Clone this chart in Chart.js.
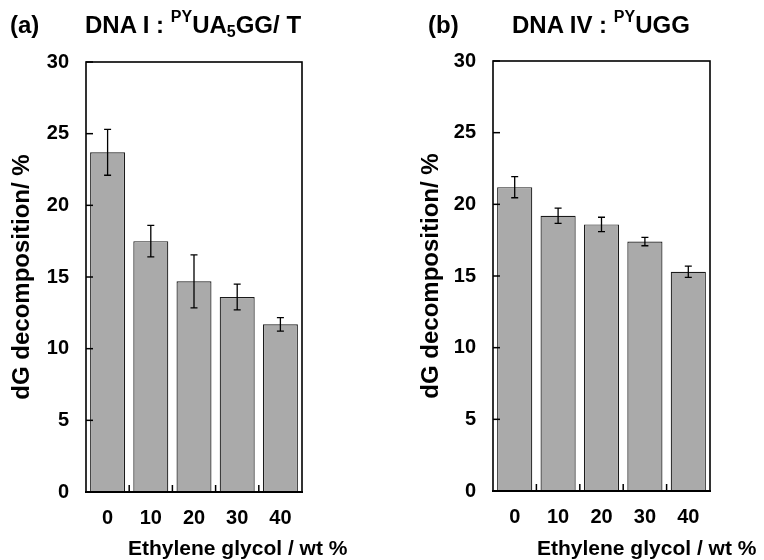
<!DOCTYPE html>
<html>
<head>
<meta charset="utf-8">
<script src="https://cdn.jsdelivr.net/npm/chart.js@4"></script>
<style>
  body { margin: 0; background: #fff; }
  #wrap { position: relative; width: 764px; height: 560px; overflow: hidden; font-family: "Liberation Sans", Arial, sans-serif; font-weight: bold; color: #000; }
  canvas { position: absolute; top: 0; }
  .ttl { position: absolute; top: 13px; font-size: 24px; line-height: 24px; white-space: nowrap; }
  .ttl .up { font-size: 16px; position: relative; top: -11px; }
  .ttl .dn { font-size: 16px; position: relative; top: 4px; }
  .xt { position: absolute; top: 537px; font-size: 21px; line-height: 21px; white-space: nowrap; }
</style>
</head>
<body>
<div id="wrap">
  <canvas id="chartA" width="382" height="560" style="left:0"></canvas>
  <canvas id="chartB" width="382" height="560" style="left:382px"></canvas>
  <div class="ttl" style="left:10px">(a)</div>
  <div class="ttl" style="left:85px">DNA I : <span class="up">PY</span>UA<span class="dn">5</span>GG/ T</div>
  <div class="ttl" style="left:428px">(b)</div>
  <div class="ttl" style="left:512px">DNA IV : <span class="up">PY</span>UGG</div>
  <div class="xt" style="left:128px">Ethylene glycol / wt %</div>
  <div class="xt" style="left:537px">Ethylene glycol / wt %</div>
</div>
<script>
// ethylene glycol content (wt %)
const glycol = ['0', '10', '20', '30', '40'];
// dG decomposition (%) with error bars
const dnaI = [23.7, 17.5, 14.7, 13.6, 11.7];
const dnaIErr = [1.6, 1.1, 1.85, 0.9, 0.47];
const dnaIV = [21.2, 19.2, 18.6, 17.4, 15.3];
const dnaIVErr = [0.74, 0.53, 0.5, 0.29, 0.39];
const yTicks = [0, 5, 10, 15, 20, 25, 30];

const FONT = "'Liberation Sans', Arial, sans-serif";

// frame, inward ticks and error bars
const framePlugin = {
    id: 'frame',
    afterDatasetsDraw(chart, args, opts) {
        const ctx = chart.ctx;
        const area = chart.chartArea;
        const x = chart.scales.x;
        const y = chart.scales.y;
        const meta = chart.getDatasetMeta(0);
        const errs = opts.errors || [];
        ctx.save();
        ctx.strokeStyle = '#000';
        // error bars
        ctx.lineWidth = 1.3;
        meta.data.forEach((bar, i) => {
            const v = chart.data.datasets[0].data[i];
            const top = y.getPixelForValue(v + errs[i]);
            const bot = y.getPixelForValue(v - errs[i]);
            ctx.beginPath();
            ctx.moveTo(bar.x, top); ctx.lineTo(bar.x, bot);
            ctx.moveTo(bar.x - 3.5, top); ctx.lineTo(bar.x + 3.5, top);
            ctx.moveTo(bar.x - 3.5, bot); ctx.lineTo(bar.x + 3.5, bot);
            ctx.stroke();
        });
        // y ticks pointing into the plot
        ctx.lineWidth = 1.5;
        yTicks.forEach(t => {
            const py = y.getPixelForValue(t);
            ctx.beginPath();
            ctx.moveTo(area.left, py); ctx.lineTo(area.left + 7, py);
            ctx.stroke();
        });
        // small x ticks between categories
        for (let i = 1; i < glycol.length; i++) {
            const px = x.getPixelForValue(i - 0.5);
            ctx.beginPath();
            ctx.moveTo(px, area.bottom); ctx.lineTo(px, area.bottom - 7);
            ctx.stroke();
        }
        // box
        ctx.lineWidth = 1.6;
        ctx.strokeRect(area.left, area.top, area.right - area.left, area.bottom - area.top);
        ctx.lineWidth = 2.2;
        ctx.beginPath();
        ctx.moveTo(area.left - 1, area.bottom); ctx.lineTo(area.right + 1, area.bottom);
        ctx.stroke();
        ctx.restore();
    }
};

const makeChart = (id, values, errors, box) => {
    return new Chart(document.getElementById(id), {
        type: 'bar',
        data: {
            labels: glycol,
            datasets: [{
                data: values,
                backgroundColor: '#aaaaaa',
                borderColor: '#1a1a1a',
                borderWidth: 1.2,
                borderSkipped: 'bottom',
                barPercentage: 0.81,
                categoryPercentage: 1.0
            }]
        },
        options: {
            responsive: false,
            animation: false,
            devicePixelRatio: 1,
            layout: { padding: { top: box.top, right: box.right, left: 0, bottom: 0 } },
            plugins: {
                legend: { display: false },
                tooltip: { enabled: false },
                frame: { errors: errors }
            },
            scales: {
                x: {
                    grid: { display: false },
                    border: { display: false },
                    ticks: { color: '#000', padding: 6, font: { family: FONT, size: 20, weight: 'bold' } },
                    afterFit: (s) => { s.height = box.xh; }
                },
                y: {
                    min: 0,
                    max: 30,
                    grid: { display: false },
                    border: { display: false },
                    ticks: { stepSize: 5, color: '#000', padding: 9, font: { family: FONT, size: 20, weight: 'bold' } },
                    title: {
                        display: true,
                        text: 'dG decomposition/ %',
                        color: '#000',
                        padding: { top: box.tpad, bottom: 0 },
                        font: { family: FONT, size: 24, weight: 'bold' }
                    },
                    afterFit: (s) => { s.width = box.yw; }
                }
            }
        },
        plugins: [framePlugin]
    });
};

makeChart('chartA', dnaI, dnaIErr, { top: 62, right: 80, xh: 68, yw: 86, tpad: 8 });
makeChart('chartB', dnaIV, dnaIVErr, { top: 61, right: 54, xh: 69, yw: 111, tpad: 35 });
</script>
</body>
</html>
